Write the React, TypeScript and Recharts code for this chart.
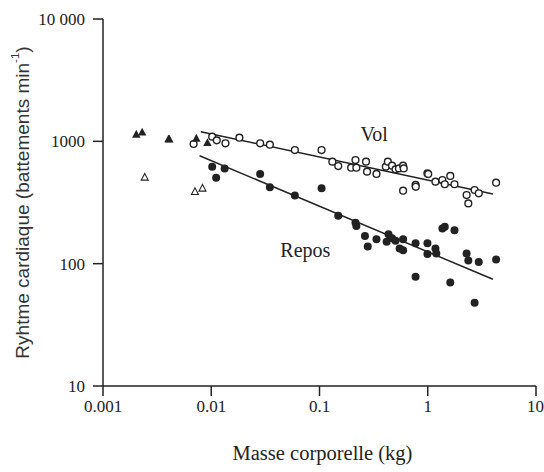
import { ScatterChart, Scatter, XAxis, YAxis, ReferenceDot } from "recharts";

// body mass (kg) and heart rate (beats/min)
const volMass = [0.00687, 0.0102, 0.01125, 0.01353, 0.0182, 0.0283, 0.0348, 0.0592, 0.1045, 0.1315, 0.149, 0.196, 0.215, 0.219, 0.269, 0.275, 0.336, 0.41, 0.428, 0.468, 0.504, 0.542, 0.592, 0.6, 0.592, 0.772, 0.775, 0.993, 1.01, 1.178, 1.365, 1.437, 1.615, 1.766, 2.285, 2.37, 2.71, 2.96, 4.28];
const volRate = [951, 1092, 1019, 964, 1071, 964, 939, 849, 849, 682, 628, 609, 703, 609, 682, 565, 541, 621, 682, 632, 590, 601, 632, 600, 395, 440, 425, 547, 540, 468, 483, 446, 521, 446, 364, 311, 400, 376, 459];

const reposMass = [0.0102, 0.0111, 0.0133, 0.0283, 0.0348, 0.0592, 0.1045, 0.149, 0.215, 0.219, 0.263, 0.279, 0.336, 0.434, 0.417, 0.468, 0.504, 0.55, 0.592, 0.592, 0.772, 0.772, 0.993, 0.993, 1.178, 1.2, 1.365, 1.437, 1.766, 1.615, 2.285, 2.37, 2.71, 2.96, 4.28];
const reposRate = [621, 505, 601, 541, 421, 360, 413, 247, 216, 203, 168, 138, 158, 174, 151, 161, 154, 133, 129, 158, 147, 78, 147, 120, 133, 121, 194, 200, 188, 70, 121, 106, 48, 103, 108];

const insectFlyMass = [0.00203, 0.0023, 0.00403, 0.0041, 0.00728, 0.00922];
const insectFlyRate = [1140, 1185, 1045, 1040, 1058, 975];
const insectRestMass = [0.00243, 0.00707, 0.0083];
const insectRestRate = [508, 388, 413];

// regression lines (endpoints)
const volFitMass = [0.008, 4.0];
const volFitRate = [1200, 371];
const reposFitMass = [0.0078, 4.0];
const reposFitRate = [763, 74.5];

const xTicks = [0.001, 0.01, 0.1, 1, 10];
const yTicks = [10, 100, 1000, 10000];

const toPoints = (xs: number[], ys: number[]) => xs.map((x, i) => ({ x, y: ys[i] }));

const INK = "#222";
const SERIF = '"Liberation Serif", "DejaVu Serif", serif';
const SANS = '"Liberation Sans", Arial, sans-serif';

const OpenCircle = (p: any) => <circle cx={p.cx} cy={p.cy} r={3.4} fill="#fff" stroke={INK} strokeWidth={1.4} />;
const FilledCircle = (p: any) => <circle cx={p.cx} cy={p.cy} r={4} fill={INK} />;
const FilledTri = (p: any) => (
  <path d={`M${p.cx},${p.cy - 4.5}L${p.cx + 4.2},${p.cy + 3.3}L${p.cx - 4.2},${p.cy + 3.3}Z`} fill={INK} />
);
const OpenTri = (p: any) => (
  <path d={`M${p.cx},${p.cy - 3.8}L${p.cx + 3.5},${p.cy + 2.8}L${p.cx - 3.5},${p.cy + 2.8}Z`} fill="#fff" stroke={INK} strokeWidth={1.1} />
);
const NoDot = () => <g />;

function fmtY(v: number) {
  return v === 10000 ? "10 000" : String(v);
}

export default function App() {
  const tick = { fontSize: 17, fill: INK, fontFamily: SERIF };
  return (
    <div style={{ position: "absolute", left: 0, top: 0, background: "#fff" }}>
      <ScatterChart width={544} height={472} margin={{ top: 19, right: 8, bottom: 0, left: 0 }}>
        <XAxis
          dataKey="x" type="number" scale="log" domain={[0.001, 10]} ticks={xTicks}
          allowDataOverflow tickFormatter={(v) => String(v)}
          tick={tick} tickSize={10} tickMargin={4} height={86}
          stroke={INK} strokeWidth={1.5}
          label={{
            content: (props: any) => {
              const vb = props.viewBox;
              return (
                <text x={vb.x + vb.width / 2 + 3} y={460} textAnchor="middle" fontFamily={SERIF} fontSize={20.5} fill={INK}>
                  Masse corporelle (kg)
                </text>
              );
            },
          }}
        />
        <YAxis
          dataKey="y" type="number" scale="log" domain={[10, 10000]} ticks={yTicks}
          allowDataOverflow tickFormatter={fmtY}
          tick={tick} tickSize={10} tickMargin={8} width={103}
          stroke={INK} strokeWidth={1.5}
          label={{
            content: (props: any) => {
              const vb = props.viewBox;
              const cx = 22;
              const cy = vb.y + vb.height / 2;
              return (
                <text x={cx} y={cy} transform={`rotate(-90 ${cx} ${cy})`} textAnchor="middle" dominantBaseline="central"
                  fontFamily={SANS} fontSize={19} fill="#333">
                  Ryhtme cardiaque (battements min<tspan dy={-7} fontSize={11.5}>-1</tspan><tspan dy={7}>)</tspan>
                </text>
              );
            },
          }}
        />
        <Scatter data={toPoints(volFitMass, volFitRate)} line={{ stroke: INK, strokeWidth: 1.5 }} shape={NoDot} isAnimationActive={false} />
        <Scatter data={toPoints(reposFitMass, reposFitRate)} line={{ stroke: INK, strokeWidth: 1.5 }} shape={NoDot} isAnimationActive={false} />
        <Scatter data={toPoints(volMass, volRate)} shape={OpenCircle} isAnimationActive={false} />
        <Scatter data={toPoints(reposMass, reposRate)} shape={FilledCircle} isAnimationActive={false} />
        <Scatter data={toPoints(insectRestMass, insectRestRate)} shape={OpenTri} isAnimationActive={false} />
        <Scatter data={toPoints(insectFlyMass, insectFlyRate)} shape={FilledTri} isAnimationActive={false} />
        <ReferenceDot x={0.32} y={1160} r={0} fill="none" stroke="none"
          label={{ value: "Vol", position: "center", fontFamily: SERIF, fontSize: 20, fill: INK }} />
        <ReferenceDot x={0.074} y={129} r={0} fill="none" stroke="none"
          label={{ value: "Repos", position: "center", fontFamily: SERIF, fontSize: 20, fill: INK }} />
      </ScatterChart>
    </div>
  );
}
